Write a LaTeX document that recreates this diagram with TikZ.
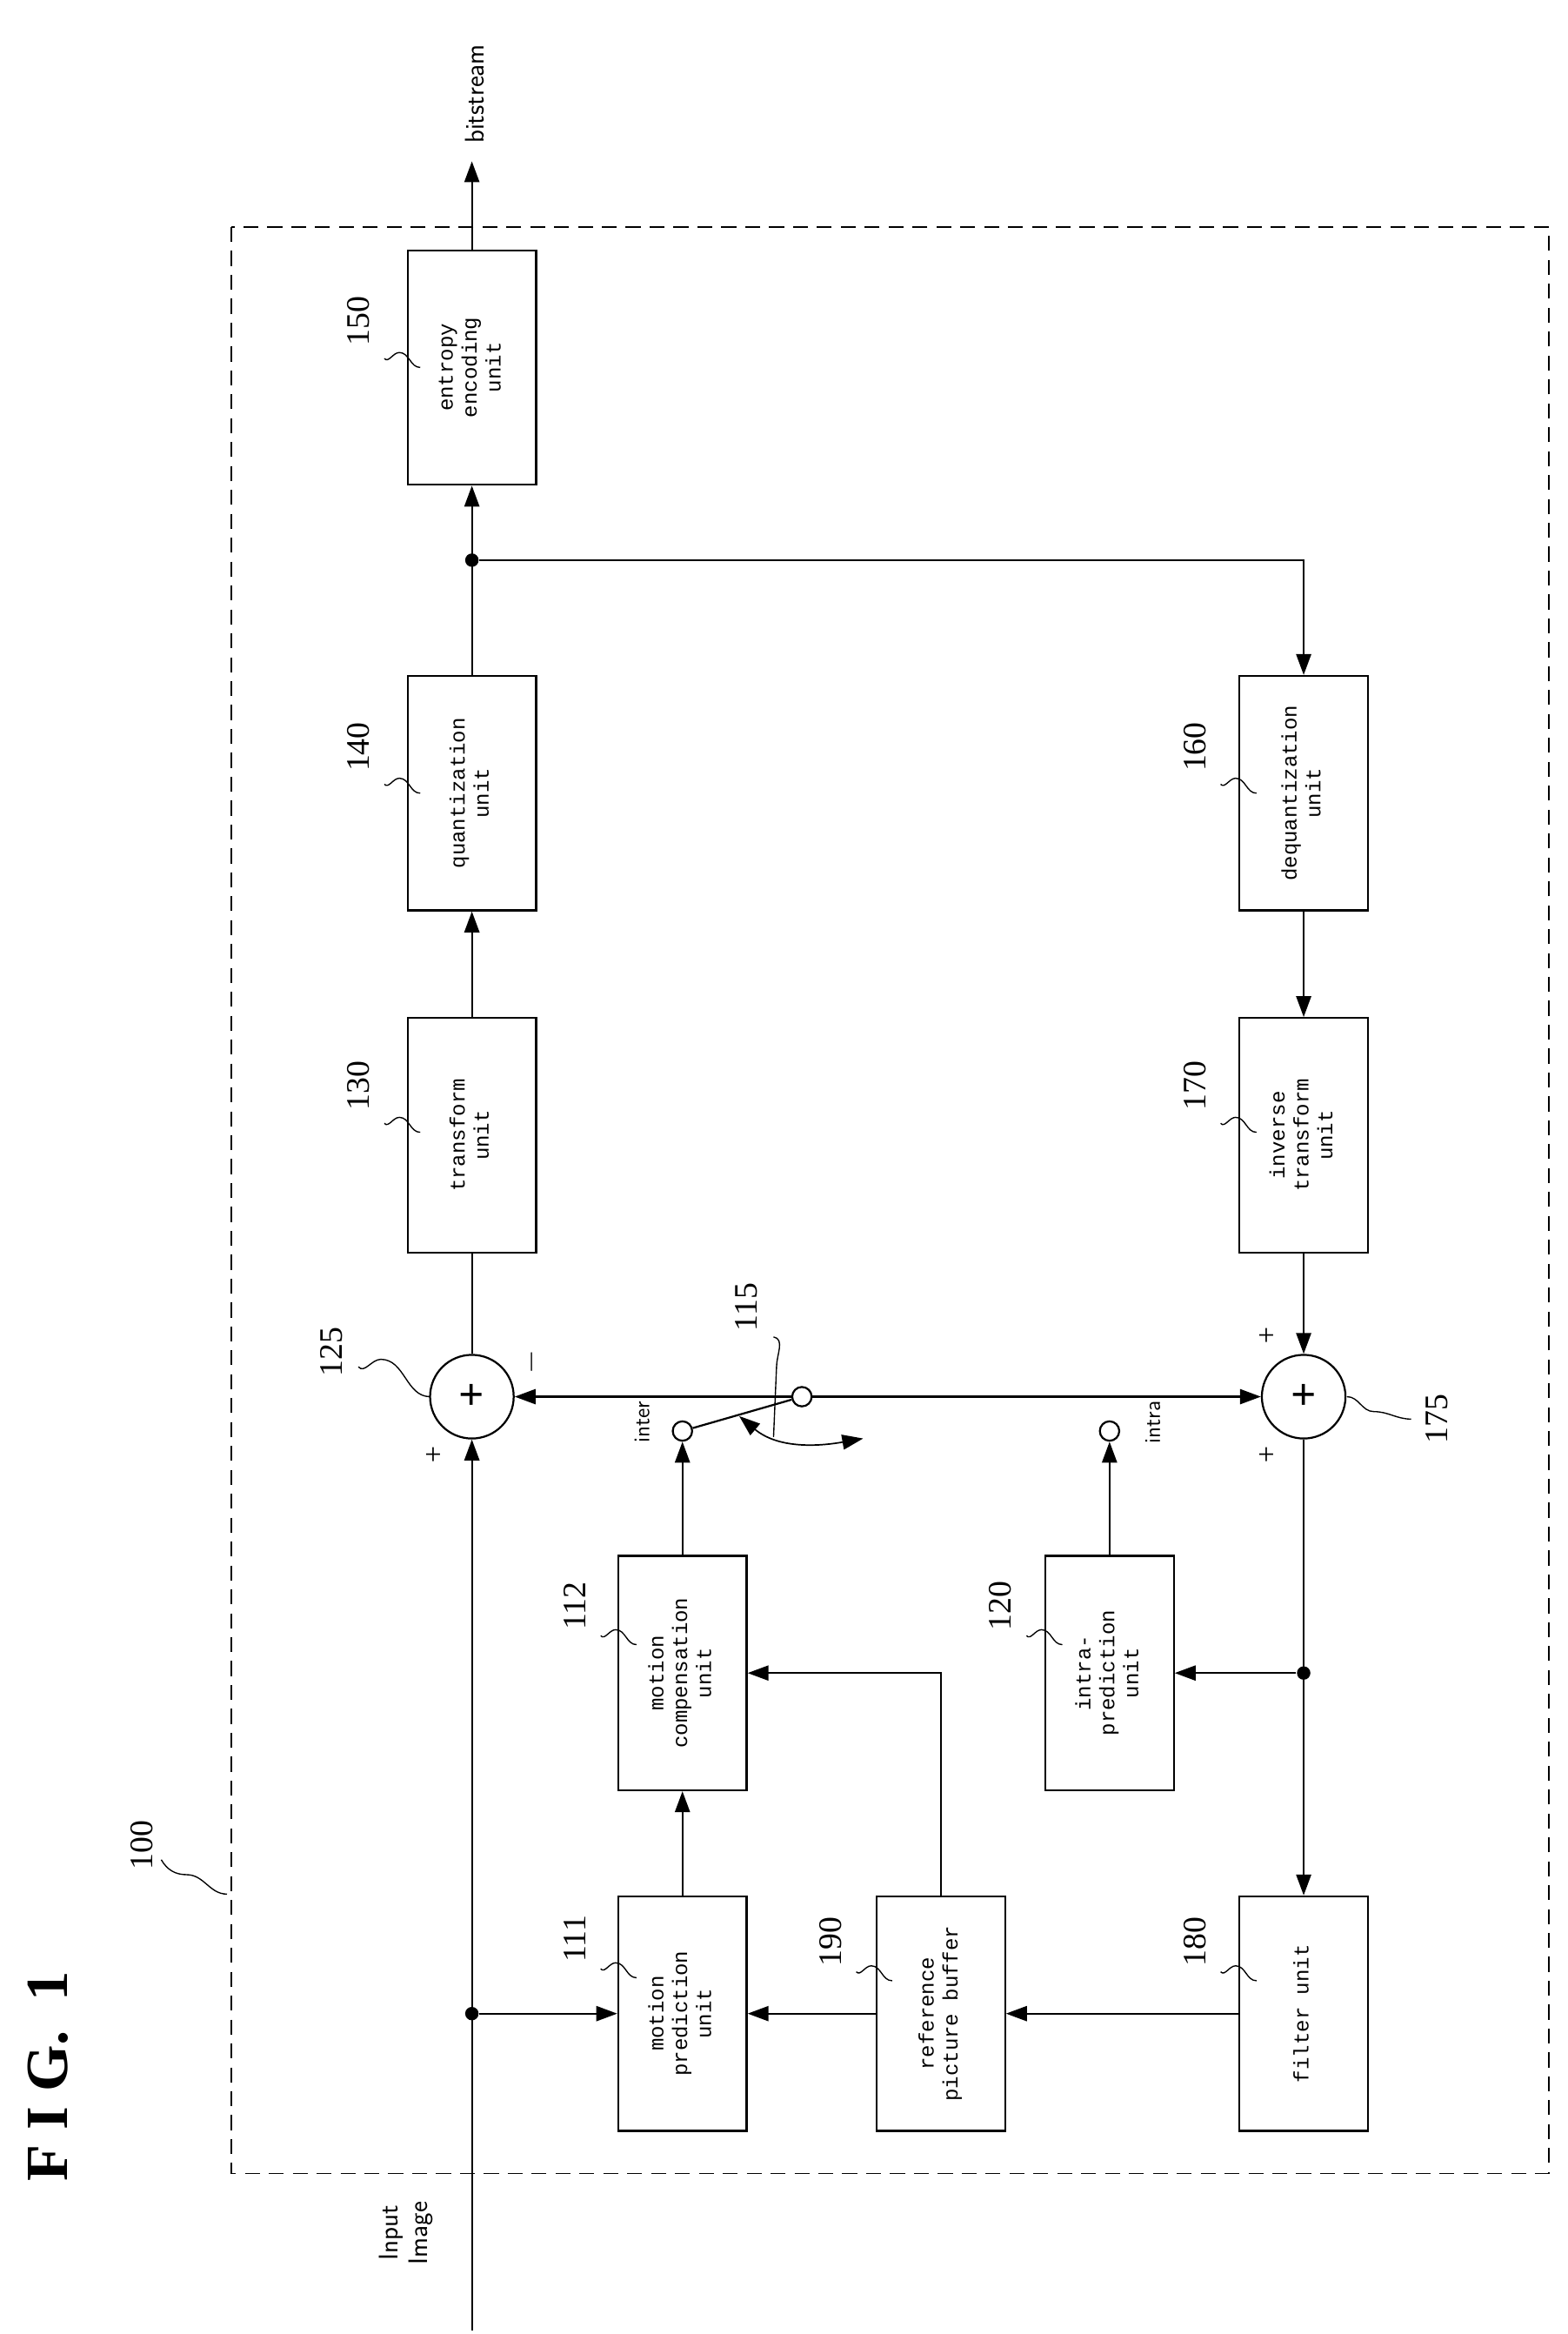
\documentclass[tikz,border=0pt]{standalone}
\usepackage{fontspec}
\setmainfont{Liberation Serif}
\newfontfamily\boxfont{Liberation Mono}
\usetikzlibrary{arrows.meta}
\begin{document}
\begin{tikzpicture}[x=1pt,y=-1pt,line width=1.3pt,
  blk/.style={draw,minimum width=86pt,minimum height=157pt,inner sep=0pt,font=\boxfont\fontsize{14}{16}\selectfont},
  sumc/.style={draw,circle,minimum size=56pt,inner sep=0pt},
  term/.style={draw,circle,minimum size=13pt,inner sep=0pt},
  arr/.style={-{Triangle[length=14pt,width=10pt]}},
  dot/.style={circle,fill,inner sep=0pt,minimum size=9pt},
  num/.style={font=\fontsize{22}{22}\selectfont,rotate=90},
  sq/.style={line width=0.8pt}]
\useasboundingbox (0,0) rectangle (1050,1562.5);
\newcommand{\rt}[1]{\rotatebox{90}{\begin{tabular}{@{}c@{}}#1\end{tabular}}}
% dashed frame
\draw[dashed,line width=1pt,dash pattern=on 10pt off 6pt] (155,152) rectangle (1037,1455);
% text
\node[font=\bfseries\fontsize{40}{40}\selectfont,rotate=90] (fig) at (32,1390) {F I G.\ \ 1};
\node[num] (n100) at (95,1235) {100};
\draw[sq] (108,1245) to[out=-60,in=180] (125,1255) to[out=0,in=180] (152,1268);
\node[font=\fontsize{18}{20}\selectfont\sffamily,rotate=90,align=center] (inp) at (272,1495) {Input\\Image};
\node[font=\fontsize{18}{20}\selectfont\sffamily,rotate=90,anchor=west] (bs) at (318,100) {bitstream};
% blocks
\node[blk] (ent) at (316,246) {\rt{entropy\\encoding\\unit}};
\node[blk] (qua) at (316,531) {\rt{quantization\\unit}};
\node[blk] (tra) at (316,760) {\rt{transform\\unit}};
\node[sumc] (s125) at (316,935) {};
\node[font=\bfseries\fontsize{30}{30}\selectfont] at (316,935) {+};
\node[blk] (mc) at (457,1120) {\rt{motion\\compensation\\unit}};
\node[blk] (mp) at (457,1348) {\rt{motion\\prediction\\unit}};
\node[blk] (rpb) at (630,1348) {\rt{reference\\picture buffer}};
\node[blk] (ip) at (743,1120) {\rt{intra-\\prediction\\unit}};
\node[blk] (fil) at (873,1348) {\rt{filter unit}};
\node[blk] (deq) at (873,531) {\rt{dequantization\\unit}};
\node[blk] (inv) at (873,760) {\rt{inverse\\transform\\unit}};
\node[sumc] (s175) at (873,935) {};
\node[font=\bfseries\fontsize{30}{30}\selectfont] at (873,935) {+};
\node[term] (tin) at (457,958) {};
\node[term] (tit) at (743,958) {};
\node[term] (piv) at (537,935) {};
\node[font=\sffamily\fontsize{15}{15}\selectfont,rotate=90] (linter) at (430,952) {inter};
\node[font=\sffamily\fontsize{15}{15}\selectfont,rotate=90] (lintra) at (772,952) {intra};
% signs
\node[font=\fontsize{20}{20}\selectfont] at (290,975) {+};
\node[font=\fontsize{20}{20}\selectfont,rotate=90] at (356,912) {$-$};
\node[font=\fontsize{20}{20}\selectfont] at (848,895) {+};
\node[font=\fontsize{20}{20}\selectfont] at (848,975) {+};
% main path
\coordinate (bot) at (316,1560);
\coordinate (top) at (316,108);
\node[dot] (d1) at (316,1348) {};
\node[dot] (d2) at (316,375) {};
\node[dot] (d3) at (873,1120) {};
\draw[arr] (bot) -- (s125);
\draw (s125) -- (tra);
\draw[arr] (tra) -- (qua);
\draw[arr] (qua) -- (ent);
\draw[arr] (ent) -- (top);
\draw[arr] (d2) -| (deq);
\draw[arr] (deq) -- (inv);
\draw[arr] (inv) -- (s175);
\draw[arr] (s175) -- (fil);
\draw[arr] (d3) -- (ip.east |- d3);
\draw[arr] (fil) -- (rpb);
\draw[arr] (rpb) -- (mp);
\draw[arr] (d1) -- (mp);
\draw[arr] (mp) -- (mc);
\draw[arr] (rpb.north) -- (630,1120) -- (mc.east |- 0,1120);
\draw[arr] (mc) -- (tin);
\draw[arr] (ip) -- (tit);
\draw[arr] (piv) -- (s125);
\draw[arr] (piv) -- (s175);
\draw (piv) -- (tin);
\draw[line width=1pt,{Triangle[length=14pt,width=10pt]}-{Triangle[length=14pt,width=10pt]}] (495,948) to[out=-40,in=190] (578,963);
% numbers
\node[num] (n150) at (240,215) {150};
\node[num] (n140) at (240,500) {140};
\node[num] (n130) at (240,727) {130};
\node[num] (n125) at (222,905) {125};
\node[num] (n111) at (385,1298) {111};
\node[num] (n112) at (385,1075) {112};
\node[num] (n190) at (556,1300) {190};
\node[num] (n120) at (670,1075) {120};
\node[num] (n180) at (800,1300) {180};
\node[num] (n160) at (800,500) {160};
\node[num] (n170) at (800,727) {170};
\node[num] (n175) at (962,950) {175};
\node[num] (n115) at (500,875) {115};
\foreach \n/\y in {n150/240,n140/525,n130/752,n111/1318,n112/1095,n190/1320,n120/1095,n180/1320,n160/525,n170/752}{
  \draw[sq] ([xshift=3pt]\n.south |- 0,\y) ++(3,0) to[out=-50,in=180] ++(10,-4) to[out=0,in=180] ++(14,10);}
\draw[sq] (240,915) to[out=-50,in=180] (255,910) to[out=0,in=180] (288,935);
\draw[sq] (902,935) to[out=0,in=180] (920,945) to[out=0,in=180] (945,950);
\draw[sq] (518,895) to[out=-10,in=90] (520,915) -- (518,962);
\end{tikzpicture}
\end{document}
